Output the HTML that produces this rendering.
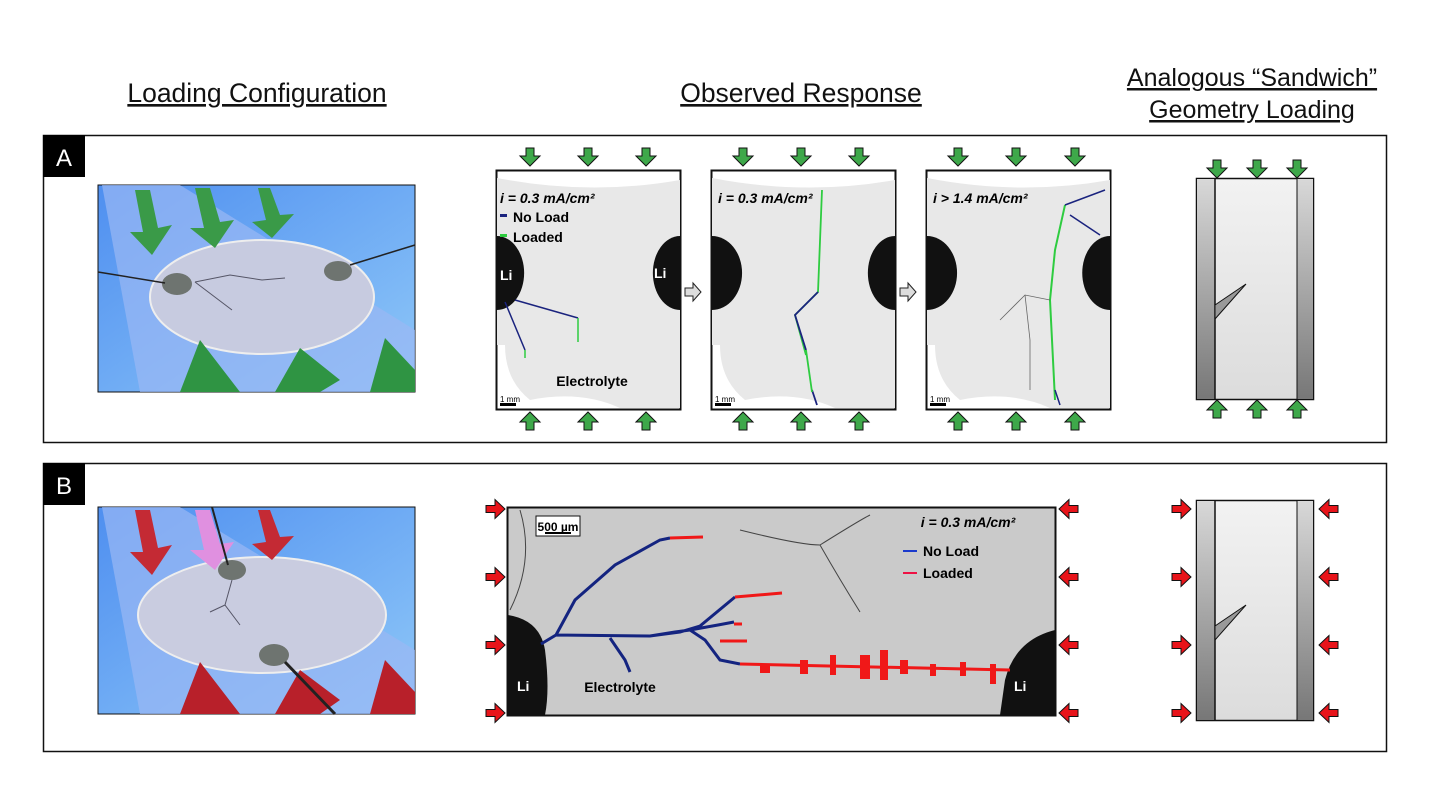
<!DOCTYPE html>
<html><head><meta charset="utf-8"><style>
body{margin:0;background:#fff;width:1430px;height:804px;overflow:hidden;font-family:"Liberation Sans",sans-serif}
</style></head><body>
<svg width="1430" height="804" viewBox="0 0 1430 804" xmlns="http://www.w3.org/2000/svg" font-family="Liberation Sans, sans-serif">
<defs>
<linearGradient id="sky" x1="0" y1="0" x2="1" y2="1"><stop offset="0" stop-color="#4f8ff0"/><stop offset="1" stop-color="#8fc8f8"/></linearGradient>
<linearGradient id="strip" x1="0" y1="0" x2="0" y2="1"><stop offset="0" stop-color="#d8d8d8"/><stop offset="1" stop-color="#777"/></linearGradient>
<linearGradient id="mid" x1="0" y1="0" x2="0" y2="1"><stop offset="0" stop-color="#f2f2f2"/><stop offset="1" stop-color="#dcdcdc"/></linearGradient>
<g id="gd"><path d="M-4,-9 h8 v8 h6 l-10,10 l-10,-10 h6z" fill="#3ea84a" stroke="#111" stroke-width="1"/></g>
<g id="gu"><path d="M-4,9 h8 v-8 h6 l-10,-10 l-10,10 h6z" fill="#3ea84a" stroke="#111" stroke-width="1"/></g>
<g id="rr"><path d="M-10,-3.5 h9 v-6 l10,9.5 l-10,9.5 v-6 h-9z" fill="#e8141a" stroke="#111" stroke-width="1"/></g>
<g id="rl"><path d="M10,-3.5 h-9 v-6 l-10,9.5 l10,9.5 v-6 h9z" fill="#e8141a" stroke="#111" stroke-width="1"/></g>
</defs>
<g fill="#111" text-anchor="middle" text-decoration="underline">
<text x="257" y="102" font-size="26.5">Loading Configuration</text>
<text x="801" y="102" font-size="26.5">Observed Response</text>
<text x="1252" y="86" font-size="25">Analogous “Sandwich”</text>
<text x="1252" y="118" font-size="25">Geometry Loading</text>
</g>
<rect x="43.5" y="135.5" width="1343" height="307" fill="none" stroke="#111" stroke-width="1.5"/>
<rect x="43.5" y="463.5" width="1343" height="288" fill="none" stroke="#111" stroke-width="1.5"/>
<rect x="43" y="135" width="42" height="42" fill="#000"/><text x="64" y="166" fill="#fff" font-size="24" text-anchor="middle">A</text>
<rect x="43" y="463" width="42" height="42" fill="#000"/><text x="64" y="494" fill="#fff" font-size="24" text-anchor="middle">B</text>

<g>
<rect x="98" y="185" width="317" height="207" fill="url(#sky)" stroke="#111"/>
<polygon points="102,185 180,185 415,330 415,392 140,392" fill="#9ab8f4" opacity="0.7"/>
<ellipse cx="262" cy="297" rx="112" ry="57" fill="#c7cbe0" stroke="#eee" stroke-width="2"/>
<polygon points="135,190 150,190 158,228 172,225 152,255 130,232 143,232" fill="#3a9a48"/>
<polygon points="195,188 210,188 220,222 234,220 215,248 190,228 204,228" fill="#3a9a48"/>
<polygon points="258,188 270,188 280,215 294,214 272,238 252,222 266,220" fill="#3a9a48"/>
<polygon points="180,392 200,340 240,392" fill="#2f9443"/>
<polygon points="275,392 300,348 340,380 320,392" fill="#2f9443"/>
<polygon points="370,392 385,338 415,370 415,392" fill="#2f9443"/>
<ellipse cx="177" cy="284" rx="15" ry="11" fill="#6e7470"/>
<ellipse cx="338" cy="271" rx="14" ry="10" fill="#6e7470"/>
<line x1="98" y1="272" x2="165" y2="283" stroke="#222" stroke-width="1.5"/>
<line x1="350" y1="265" x2="415" y2="245" stroke="#222" stroke-width="1.5"/>
<path d="M195,282 L230,275 L262,280 L285,278 M195,282 L232,310" stroke="#556" fill="none"/>
</g>
<g>
<rect x="98" y="507" width="317" height="207" fill="url(#sky)" stroke="#111"/>
<polygon points="102,507 180,507 415,650 415,714 140,714" fill="#9ab8f4" opacity="0.7"/>
<ellipse cx="262" cy="615" rx="124" ry="58" fill="#c9cce0" stroke="#eee" stroke-width="2"/>
<polygon points="135,510 150,510 158,548 172,545 152,575 130,552 143,552" fill="#c42a34"/>
<polygon points="195,510 210,510 220,544 234,542 215,570 190,550 204,550" fill="#e090e0"/>
<polygon points="258,510 270,510 280,537 294,536 272,560 252,544 266,542" fill="#c42a34"/>
<polygon points="180,714 200,662 240,714" fill="#b8202a"/>
<polygon points="275,714 300,670 340,700 320,714" fill="#b8202a"/>
<polygon points="370,714 385,660 415,692 415,714" fill="#b8202a"/>
<ellipse cx="232" cy="570" rx="14" ry="10" fill="#6e7470"/>
<ellipse cx="274" cy="655" rx="15" ry="11" fill="#6e7470"/>
<line x1="212" y1="507" x2="228" y2="565" stroke="#222" stroke-width="2"/>
<line x1="285" y1="662" x2="335" y2="714" stroke="#222" stroke-width="3"/>
<path d="M232,580 L225,605 L240,625 M225,605 L210,612" stroke="#556" fill="none"/>
</g>

<g font-weight="bold">
<g>
<rect x="496.5" y="170.5" width="184" height="239" fill="#fff" stroke="#111" stroke-width="2"/>
<path d="M497,178 Q590,196 680,180 L680,408 L620,408 Q580,390 530,400 Q505,380 505,345 L497,345Z" fill="#e8e8e8"/>
<path d="M497,236 A22,30 0 0 1 497,310Z" fill="#111"/>
<path d="M680,236 A22,30 0 0 0 680,310Z" fill="#111"/>
<text x="500" y="280" fill="#fff" font-size="14">Li</text><text x="654" y="278" fill="#fff" font-size="14">Li</text>
<text x="500" y="203" font-size="14" font-style="italic">i = 0.3 mA/cm²</text>
<rect x="500" y="214" width="7" height="3" fill="#1a237e"/><text x="513" y="222" font-size="14">No Load</text>
<rect x="500" y="234" width="7" height="3" fill="#2ecc40"/><text x="513" y="242" font-size="14">Loaded</text>
<path d="M505,302 L525,350 M515,300 L578,318" stroke="#1a237e" stroke-width="1.5" fill="none"/>
<path d="M578,318 V342 M525,350 V358" stroke="#2ecc40" stroke-width="1.5"/>
<text x="592" y="386" font-size="14" text-anchor="middle">Electrolyte</text>
<text x="500" y="402" font-size="8" font-weight="normal">1 mm</text><rect x="500" y="403" width="16" height="3"/>
</g>
<g>
<rect x="711.5" y="170.5" width="184" height="239" fill="#fff" stroke="#111" stroke-width="2"/>
<path d="M712,178 Q805,196 895,180 L895,408 L835,408 Q795,390 745,400 Q720,380 720,345 L712,345Z" fill="#e8e8e8"/>
<path d="M712,236 A26,32 0 0 1 712,310Z" fill="#111"/>
<path d="M895,236 A22,30 0 0 0 895,310Z" fill="#111"/>
<text x="718" y="203" font-size="14" font-style="italic">i = 0.3 mA/cm²</text>
<path d="M822,190 L818,292 L795,315 L806,355" stroke="#2ecc40" stroke-width="1.8" fill="none"/>
<path d="M818,292 L795,315 L806,350 M812,390 L817,405" stroke="#1a237e" stroke-width="1.8" fill="none"/>
<path d="M806,350 L812,392" stroke="#2ecc40" stroke-width="1.8"/>
<text x="715" y="402" font-size="8" font-weight="normal">1 mm</text><rect x="715" y="403" width="16" height="3"/>
</g>
<g>
<rect x="926.5" y="170.5" width="184" height="239" fill="#fff" stroke="#111" stroke-width="2"/>
<path d="M927,178 Q1020,196 1110,180 L1110,408 L1050,408 Q1010,390 960,400 Q935,380 935,345 L927,345Z" fill="#e8e8e8"/>
<path d="M927,236 A26,32 0 0 1 927,310Z" fill="#111"/>
<path d="M1110,236 A24,32 0 0 0 1110,310Z" fill="#111"/>
<text x="933" y="203" font-size="14" font-style="italic">i &gt; 1.4 mA/cm²</text>
<path d="M1065,205 L1055,250 L1050,300 L1055,400" stroke="#2ecc40" stroke-width="2" fill="none"/>
<path d="M1065,205 L1105,190 M1070,215 L1100,235 M1055,390 L1060,405" stroke="#1a237e" stroke-width="1.5" fill="none"/>
<path d="M1000,320 L1025,295 L1050,300 M1025,295 L1030,340 L1030,390" stroke="#666" stroke-width="0.8" fill="none"/>
<text x="930" y="402" font-size="8" font-weight="normal">1 mm</text><rect x="930" y="403" width="16" height="3"/>
</g>
</g>
<path d="M685,288 h8 v-5 l8,9 l-8,9 v-5 h-8z" fill="#ddd" stroke="#222"/>
<path d="M900,288 h8 v-5 l8,9 l-8,9 v-5 h-8z" fill="#ddd" stroke="#222"/>
<g>
<use href="#gd" x="530" y="157"/><use href="#gd" x="588" y="157"/><use href="#gd" x="646" y="157"/>
<use href="#gd" x="743" y="157"/><use href="#gd" x="801" y="157"/><use href="#gd" x="859" y="157"/>
<use href="#gd" x="958" y="157"/><use href="#gd" x="1016" y="157"/><use href="#gd" x="1075" y="157"/>
<use href="#gu" x="530" y="421"/><use href="#gu" x="588" y="421"/><use href="#gu" x="646" y="421"/>
<use href="#gu" x="743" y="421"/><use href="#gu" x="801" y="421"/><use href="#gu" x="859" y="421"/>
<use href="#gu" x="958" y="421"/><use href="#gu" x="1016" y="421"/><use href="#gu" x="1075" y="421"/>
</g>

<g>
<rect x="1196.5" y="178.5" width="117" height="221" fill="url(#mid)" stroke="#111" stroke-width="1.5"/>
<rect x="1197" y="179" width="18" height="220" fill="url(#strip)"/>
<rect x="1297" y="179" width="16" height="220" fill="url(#strip)"/>
<line x1="1215" y1="179" x2="1215" y2="399" stroke="#111" stroke-width="1.5"/>
<line x1="1297" y1="179" x2="1297" y2="399" stroke="#111" stroke-width="1"/>
<path d="M1215,305 L1246,284 L1215,319Z" fill="#999" stroke="#111"/>
<use href="#gd" x="1217" y="169"/><use href="#gd" x="1257" y="169"/><use href="#gd" x="1297" y="169"/>
<use href="#gu" x="1217" y="409"/><use href="#gu" x="1257" y="409"/><use href="#gu" x="1297" y="409"/>
</g>

<g font-weight="bold">
<rect x="507.5" y="507.5" width="548" height="208" fill="#cacaca" stroke="#111" stroke-width="2"/>
<path d="M508,615 Q540,620 545,650 Q550,690 545,715 L508,715Z" fill="#111"/>
<path d="M1055,630 Q1015,640 1005,680 L1000,715 L1055,715Z" fill="#111"/>
<path d="M520,510 Q535,560 510,610 M740,530 Q800,545 820,545 Q860,520 870,515 M820,545 Q840,580 860,612" stroke="#444" stroke-width="1" fill="none"/>
<rect x="536" y="516" width="44" height="20" fill="#fff" stroke="#111"/>
<text x="558" y="531" font-size="12" text-anchor="middle">500 µm</text><rect x="545" y="532" width="26" height="2"/>
<text x="968" y="527" font-size="14" font-style="italic" text-anchor="middle">i = 0.3 mA/cm²</text>
<rect x="903" y="550" width="14" height="2" fill="#1a3acc"/><text x="923" y="556" font-size="14">No Load</text>
<rect x="903" y="572" width="14" height="2" fill="#ee1144"/><text x="923" y="578" font-size="14">Loaded</text>
<path d="M541,644 L556,635 L650,636 L680,632 L700,626 L735,597 M556,635 L575,600 L615,565 L660,540 L670,538 M650,636 L675,632 L690,630 L718,625 L734,622 M690,630 L705,640 L720,660 L740,664 M610,638 L625,660 L630,672" stroke="#142480" stroke-width="3" fill="none"/>
<path d="M670,538 L703,537 M735,597 L782,593 M734,624 L742,624 M720,641 L747,641 M740,664 L1010,670" stroke="#f01818" stroke-width="3" fill="none"/>
<path d="M760,665 h10 v8 h-10z M800,660 h8 v14 h-8z M830,655 h6 v20 h-6z M860,655 h10 v24 h-10z M880,650 h8 v30 h-8z M900,660 h8 v14 h-8z M930,664 h6 v12 h-6z M960,662 h6 v14 h-6z M990,664 h6 v20 h-6z" fill="#f01818"/>
<text x="517" y="691" fill="#fff" font-size="14">Li</text>
<text x="1014" y="691" fill="#fff" font-size="14">Li</text>
<text x="620" y="692" font-size="14" text-anchor="middle">Electrolyte</text>
</g>
<g>
<use href="#rr" x="496" y="509"/><use href="#rr" x="496" y="577"/><use href="#rr" x="496" y="645"/><use href="#rr" x="496" y="713"/>
<use href="#rl" x="1068" y="509"/><use href="#rl" x="1068" y="577"/><use href="#rl" x="1068" y="645"/><use href="#rl" x="1068" y="713"/>
</g>

<g>
<rect x="1196.5" y="500.5" width="117" height="220" fill="url(#mid)" stroke="#111" stroke-width="1.5"/>
<rect x="1197" y="501" width="18" height="219" fill="url(#strip)"/>
<rect x="1297" y="501" width="16" height="219" fill="url(#strip)"/>
<line x1="1215" y1="501" x2="1215" y2="720" stroke="#111" stroke-width="1.5"/>
<line x1="1297" y1="501" x2="1297" y2="720" stroke="#111" stroke-width="1"/>
<path d="M1215,626 L1246,605 L1215,640Z" fill="#999" stroke="#111"/>
<use href="#rr" x="1182" y="509"/><use href="#rr" x="1182" y="577"/><use href="#rr" x="1182" y="645"/><use href="#rr" x="1182" y="713"/>
<use href="#rl" x="1328" y="509"/><use href="#rl" x="1328" y="577"/><use href="#rl" x="1328" y="645"/><use href="#rl" x="1328" y="713"/>
</g>
</svg>
</body></html>
